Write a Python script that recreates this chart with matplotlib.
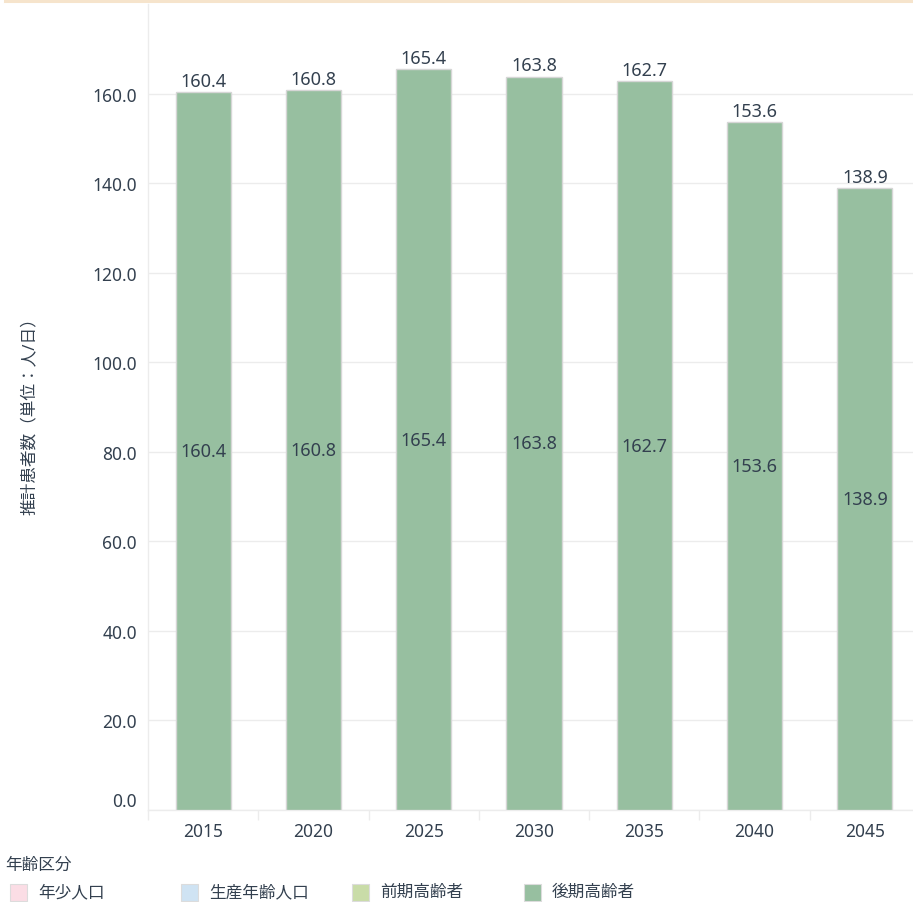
import matplotlib
matplotlib.use('Agg')
import matplotlib.pyplot as plt
from matplotlib.patches import Rectangle
import numpy as np

plt.rcParams['font.family'] = ['Noto Sans', 'Noto Sans CJK JP', 'DejaVu Sans']

years = ['2015', '2020', '2025', '2030', '2035', '2040', '2045']
late_elderly = [160.4, 160.8, 165.4, 163.8, 162.7, 153.6, 138.9]
yticks = [0, 20, 40, 60, 80, 100, 120, 140, 160]

legend_title = '年齢区分'
legend_labels = ['年少人口', '生産年齢人口', '前期高齢者', '後期高齢者']
legend_colors = ['#fbdde5', '#cfe3f3', '#c9dca8', '#97bfa0']

text_color = '#33404f'
grid_color = '#ececec'

fig = plt.figure(figsize=(9.13, 9.03), dpi=100)
W, H = 913, 903

# thin beige line at the very top
fig.add_artist(plt.Line2D([5 / W, 1], [1 - 1.5 / H, 1 - 1.5 / H],
                          color='#f6e4cc', lw=2.2, transform=fig.transFigure))

ax = fig.add_axes([148 / W, 1 - 811 / H, (920 - 148) / W, (811 - 5) / H])

x = np.arange(len(years))
bars = ax.bar(x, late_elderly, width=0.5, color=legend_colors[3],
              edgecolor='#d6d6d6', linewidth=1.0, zorder=3)

for xi, v in zip(x, late_elderly):
    ax.annotate('%.1f' % v, (xi, v), xytext=(0, 1.5), textcoords='offset points',
                ha='center', va='bottom', fontsize=13, color=text_color, zorder=4)
    ax.text(xi, v / 2, '%.1f' % v, ha='center', va='center',
            fontsize=13, color=text_color, zorder=4)

ax.set_xlim(-0.5, len(years) - 0.5)
ax.set_ylim(0, 180)
ax.set_yticks(yticks)
ax.set_yticklabels(['%.1f' % t for t in yticks])
ax.set_xticks(x)
ax.set_xticklabels(years)
ax.set_xticks(np.arange(len(years) + 1) - 0.5, minor=True)

ax.tick_params(axis='y', length=0, pad=8, labelsize=12.5, labelcolor=text_color)
ax.tick_params(axis='x', which='major', length=0, pad=9, labelsize=12.5, labelcolor=text_color)
ax.tick_params(axis='x', which='minor', length=7, width=1, color=grid_color)

# lift the bottom tick label like the original
ylabels = ax.get_yticklabels()
ylabels[0].set_verticalalignment('bottom')

ax.grid(axis='y', color=grid_color, linewidth=1, zorder=0)
for key in ['top', 'right']:
    ax.spines[key].set_visible(False)
ax.spines['left'].set_color(grid_color)
ax.spines['bottom'].set_color(grid_color)
ax.spines['left'].set_linewidth(1)
ax.spines['bottom'].set_linewidth(1)

fig.text(30 / W, 1 - 412 / H, '推計患者数（単位：人/日）', rotation=90,
         ha='center', va='center', fontsize=12, color=text_color)

# legend
fig.text(5 / W, 1 - 866 / H, legend_title, ha='left', va='center',
         fontsize=12, color=text_color)
px = [10, 181, 352, 524]
for xp, lab, col in zip(px, legend_labels, legend_colors):
    fig.add_artist(Rectangle((xp / W, 1 - 902 / H), 17 / W, 17 / H, facecolor=col,
                             edgecolor='#dcdcdc', linewidth=0.8,
                             transform=fig.transFigure))
    fig.text((xp + 28) / W, 1 - 893 / H, lab, ha='left', va='center',
             fontsize=12, color=text_color)

fig.savefig('out.png', dpi=100)
